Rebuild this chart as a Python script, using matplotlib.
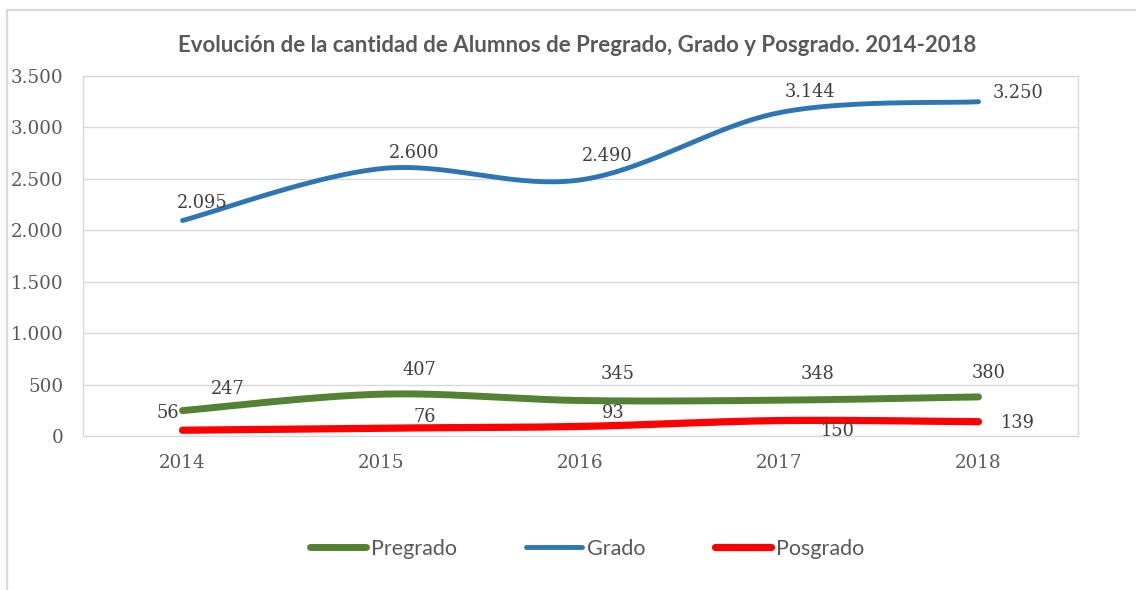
import numpy as np
import matplotlib
matplotlib.use("Agg")
import matplotlib.pyplot as plt
from matplotlib.lines import Line2D
from matplotlib.patches import Rectangle
from matplotlib.ticker import FuncFormatter

# data
years = ["2014", "2015", "2016", "2017", "2018"]
pregrado = [247, 407, 345, 348, 380]
grado = [2095, 2600, 2490, 3144, 3250]
posgrado = [56, 76, 93, 150, 139]

title = "Evolución de la cantidad de Alumnos de Pregrado, Grado y Posgrado. 2014-2018"

# label offsets in pixels (dx right, dy down) relative to each point
grado_off = [(20, -18), (33, -16), (27, -24), (30, -21), (39, -9)]
pregrado_off = [(45, -22), (38, -24), (37, -27), (38, -26), (10, -24)]
posgrado_off = [(-15, -17), (43, -11), (33, -13), (58, 10), (39, 1)]

GREEN = "#548235"
BLUE = "#2E75B6"
RED = "#FF0000"
GRID = "#D9D9D9"
TXT = "#595959"
LBL = "#404040"


def smooth(xs, ys, n=40):
    """Excel-like smoothed line (Catmull-Rom via cubic bezier)"""
    pts = np.column_stack([xs, ys]).astype(float)
    padded = np.vstack([pts[0], pts, pts[-1]])
    out = []
    t = np.linspace(0, 1, n)[:, None]
    for i in range(len(pts) - 1):
        p0, p3 = padded[i + 1], padded[i + 2]
        c1 = p0 + (padded[i + 2] - padded[i]) / 6.0
        c2 = p3 - (padded[i + 3] - padded[i + 1]) / 6.0
        seg = ((1 - t) ** 3) * p0 + 3 * ((1 - t) ** 2) * t * c1 + 3 * (1 - t) * t ** 2 * c2 + t ** 3 * p3
        out.append(seg if i == 0 else seg[1:])
    out = np.vstack(out)
    return out[:, 0], out[:, 1]


fig = plt.figure(figsize=(11.36, 5.90), dpi=100)
ax = fig.add_axes([83 / 1136, 1 - 436 / 590, (1078 - 83) / 1136, (436 - 76) / 590])

# outer chart border
fig.patches.append(Rectangle((7 / 1136, -0.1), 1.2, 1.1 - 10 / 590, transform=fig.transFigure,
                             fill=False, edgecolor=GRID, linewidth=1.6))

x = np.arange(len(years))
series = [
    (pregrado, GREEN, 5.0, pregrado_off),
    (grado, BLUE, 3.5, grado_off),
    (posgrado, RED, 5.2, posgrado_off),
]
for vals, col, lw, offs in series:
    sx, sy = smooth(x, vals)
    ax.plot(sx, sy, color=col, lw=lw, solid_capstyle="round", zorder=3)
    for xi, v, (dx, dy) in zip(x, vals, offs):
        ax.annotate(f"{v:,}".replace(",", "."), (xi, v), xytext=(dx * 0.72, -dy * 0.72),
                    textcoords="offset points", ha="center", va="center",
                    fontsize=12.8, family="DejaVu Serif", color=LBL, zorder=4)

ax.set_xlim(-0.5, len(years) - 0.5)
ax.set_ylim(0, 3500)
ax.set_yticks(np.arange(0, 3501, 500))
ax.yaxis.set_major_formatter(FuncFormatter(lambda v, p: f"{int(v):,}".replace(",", ".")))
ax.set_xticks(x)
ax.set_xticklabels(years)
ax.grid(axis="y", color=GRID, lw=1.0)
ax.set_axisbelow(True)
for s in ax.spines.values():
    s.set_color(GRID)
    s.set_linewidth(1.0)
ax.tick_params(length=0, labelsize=13.2, labelcolor=TXT)
ax.tick_params(axis="y", pad=14)
ax.tick_params(axis="x", pad=13)
for lab in ax.get_xticklabels() + ax.get_yticklabels():
    lab.set_family("DejaVu Serif")

fig.text(577 / 1136, 1 - 46 / 590, title, ha="center", va="center",
         fontsize=16, fontweight="bold", family="Lato", color=TXT)

handles = [Line2D([], [], color=c, lw=lw, solid_capstyle="round") for _, c, lw, _ in series]
leg = fig.legend(handles, ["Pregrado", "Grado", "Posgrado"], loc="center",
                 bbox_to_anchor=(587 / 1136, 1 - 549 / 590), ncol=3, frameon=False,
                 handlelength=2.6, handletextpad=0.25, columnspacing=3.2,
                 prop={"family": "Lato", "size": 15.5})
for t in leg.get_texts():
    t.set_color(TXT)

fig.savefig("out.png", dpi=100)
